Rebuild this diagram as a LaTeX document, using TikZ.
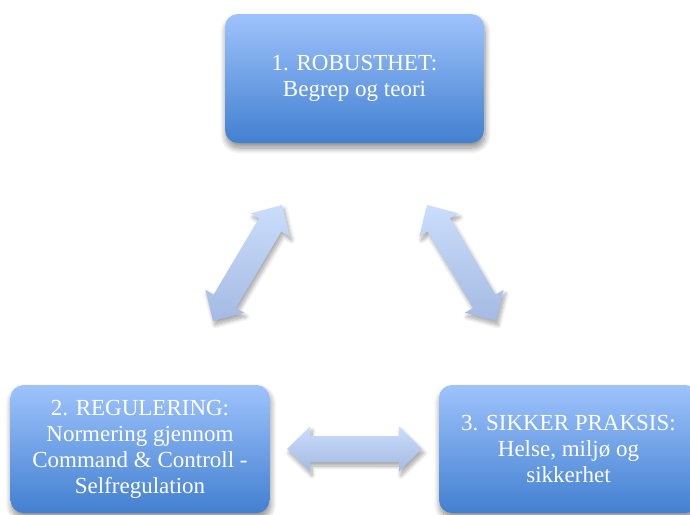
\documentclass[tikz,border=0pt]{standalone}
\usepackage{fontspec}
\setmainfont{Liberation Serif}
\usetikzlibrary{calc,shadows.blur}
\definecolor{boxtop}{RGB}{158,195,252}
\definecolor{boxbot}{RGB}{66,128,208}
\definecolor{arrtop}{RGB}{202,221,252}
\definecolor{arrbot}{RGB}{165,186,226}
\tikzset{
  box/.style={rounded corners=13pt, top color=boxtop, bottom color=boxbot,
    draw=none, text=white, align=center,
    font=\fontsize{23}{26}\selectfont,
    minimum width=259pt, minimum height=129pt, inner sep=0pt,
    blur shadow={shadow xshift=1pt, shadow yshift=-5pt, shadow blur radius=6pt,
      shadow blur steps=10, shadow opacity=45}},
  blockarrow/.style={top color=arrtop, bottom color=arrbot, draw=none,
    blur shadow={shadow xshift=2pt, shadow yshift=-4pt, shadow blur radius=4pt,
      shadow blur steps=8, shadow opacity=35}},
}
\newcommand\mydblarrow[2]{%
  \coordinate (#1h) at ($(#1)!23pt!(#2)$);
  \coordinate (#2h) at ($(#2)!23pt!(#1)$);
  \path[blockarrow] (#1)
    -- ($(#1h)!22.5pt!90:(#2)$) -- ($(#1h)!13pt!90:(#2)$)
    -- ($(#2h)!13pt!-90:(#1)$) -- ($(#2h)!22.5pt!-90:(#1)$)
    -- (#2)
    -- ($(#2h)!22.5pt!90:(#1)$) -- ($(#2h)!13pt!90:(#1)$)
    -- ($(#1h)!13pt!-90:(#2)$) -- ($(#1h)!22.5pt!-90:(#2)$)
    -- cycle;
}
\begin{document}
\begin{tikzpicture}[x=1pt,y=-1pt]
\useasboundingbox (0,0) rectangle (690,514);
\clip (0,0) rectangle (690,514);
\node[box] (top) at (354.5,78.5) {1. ROBUSTHET:\\Begrep og teori};
\node[box, minimum height=128pt] (left) at (140,449) {2. REGULERING:\\Normering gjennom\\Command \& Controll -\\Selfregulation};
\node[box, minimum height=128pt] (right) at (568.5,449) {3. SIKKER PRAKSIS:\\Helse, miljø og\\sikkerhet};
\coordinate (LA) at (282,205);
\coordinate (LB) at (213,321);
\coordinate (RA) at (427,205);
\coordinate (RB) at (496,321);
\coordinate (HA) at (287,449);
\coordinate (HB) at (422,449);
\mydblarrow{LA}{LB}
\mydblarrow{RA}{RB}
\mydblarrow{HA}{HB}
\end{tikzpicture}
\end{document}
